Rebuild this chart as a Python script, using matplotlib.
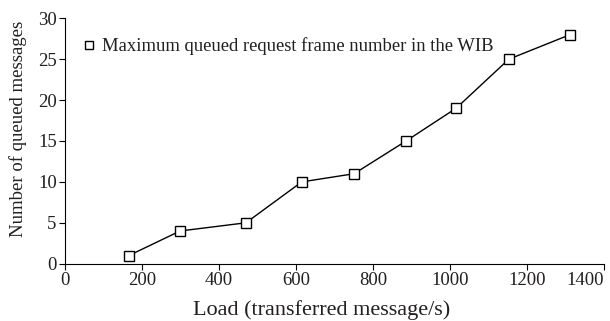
import matplotlib
matplotlib.use('Agg')
import matplotlib.pyplot as plt
from matplotlib.lines import Line2D

load = [166, 299, 470, 615, 751, 886, 1016, 1153, 1312]
queued = [1, 4, 5, 10, 11, 15, 19, 25, 28]

plt.rcParams['font.family'] = 'Liberation Serif'
plt.rcParams['font.size'] = 13.5
plt.rcParams['text.color'] = '#231f20'
plt.rcParams['axes.labelcolor'] = '#231f20'
plt.rcParams['xtick.labelcolor'] = '#231f20'
plt.rcParams['ytick.labelcolor'] = '#231f20'

fig = plt.figure(figsize=(6.10, 3.21), dpi=100)
ax = fig.add_axes([0.1066, 0.1785, 0.8834, 0.7645])

ax.plot(load, queued, color='black', linewidth=1.0, marker='s', markersize=6.5,
        markerfacecolor='white', markeredgecolor='black', markeredgewidth=1.0)

ax.set_xlim(0, 1400)
ax.set_ylim(0, 30)
ax.set_xticks(range(0, 1401, 200))
ax.set_yticks(range(0, 31, 5))
ax.spines['top'].set_visible(False)
ax.spines['right'].set_visible(False)
ax.tick_params(direction='out', length=4, width=0.8, pad=2)
# last x tick label sits flush with the axis end
ax.get_xticklabels()[-1].set_horizontalalignment('right')

ax.set_xlabel('Load (transferred message/s)', fontsize=16)
ax.xaxis.set_label_coords(0.477, -0.15)
ax.set_ylabel('Number of queued messages', fontsize=13.5)
ax.yaxis.set_label_coords(-0.07, 0.55)

handle = Line2D([], [], linestyle='none', marker='s', markersize=6,
                markerfacecolor='white', markeredgecolor='black')
ax.legend([handle], ['Maximum queued request frame number in the WIB'],
          loc='upper left', bbox_to_anchor=(-0.008, 0.99), frameon=False,
          handletextpad=0.1, handlelength=1.2, fontsize=13.4)

fig.savefig('out.png', dpi=100)
